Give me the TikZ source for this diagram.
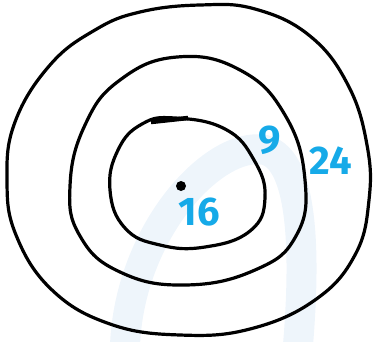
\documentclass[tikz,border=0pt]{standalone}
\usepackage{fontspec}
\setmainfont{Fira Sans}
\definecolor{labelblue}{RGB}{22,170,232}
\definecolor{wmark}{RGB}{238,245,251}
\begin{document}
\begin{tikzpicture}[x=1pt,y=-1pt,
  ring/.style={line width=3.2pt,line join=round},
  lbl/.style={text=labelblue,font=\fontsize{40}{40}\selectfont\bfseries,inner sep=0pt}]
\useasboundingbox (0,0) rectangle (374,341);
% faint watermark
\draw[wmark,line width=30pt,line cap=round] (125,345) .. controls (130,230) and (215,140) .. (265,150) .. controls (305,160) and (305,260) .. (298,345);
% outer ring
\draw[ring] plot[smooth cycle,tension=0.7] coordinates {
 (140,12) (200,5) (255,9) (310,36) (348,85) (367,145) (369,200) (355,255) (315,300)
 (250,329) (180,335) (110,324) (52,290) (16,235) (7,180) (15,122) (50,65) (95,30)};
% middle ring
\draw[ring] plot[smooth cycle,tension=0.75] coordinates {
 (177,57) (240,70) (285,115) (305,180) (296,236) (255,270) (185,285)
 (120,272) (80,236) (70,186) (85,125) (120,80)};
% inner ring
\draw[ring] plot[smooth cycle,tension=0.75] coordinates {
 (175,118) (225,129) (254,160) (265,198) (250,231) (205,247) (160,245)
 (125,228) (110,190) (118,150) (142,124)};
\draw[line width=4.5pt] (151,122) -- (188,118);
\node[circle,fill=black,inner sep=0pt,minimum size=10pt] (c) at (181,186) {};
\node[lbl] (l16) at (199,212) {16};
\node[lbl] (l9) at (270,140) {9};
\node[lbl] (l24) at (331,161) {24};
\end{tikzpicture}
\end{document}
